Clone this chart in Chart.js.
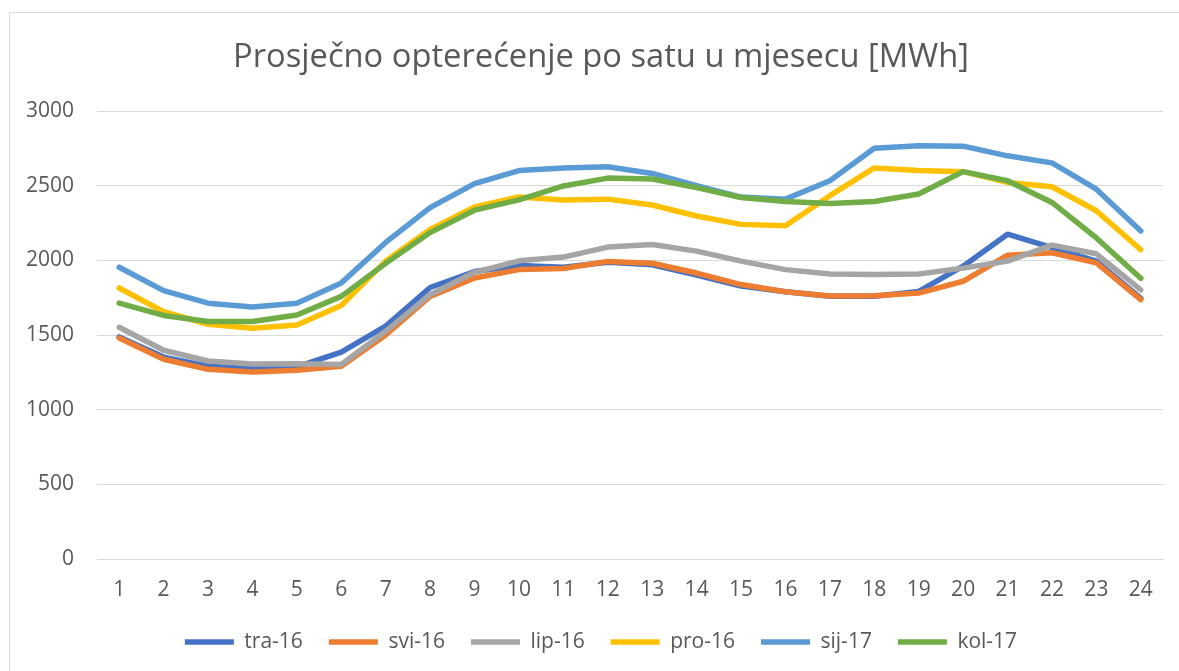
<!DOCTYPE html>
<html lang="hr">
<head>
  <meta charset="UTF-8">
  <title>Prosječno opterećenje po satu u mjesecu</title>
  <script src="https://cdn.jsdelivr.net/npm/chart.js"></script>
  <style>
    html, body { margin: 0; padding: 0; background: #fff; overflow: hidden; }
    #frame { position: absolute; left: 9px; top: 12px; width: 1200px; height: 700px; border: 1px solid #d9d9d9; }
    #wrap { position: absolute; left: 0; top: 0; width: 1200px; height: 671px; }
  </style>
</head>
<body>
  <div id="frame"></div>
  <div id="wrap"><canvas id="chart" width="1200" height="671"></canvas></div>

  <script>
    // sati u danu
    const hours = ["1","2","3","4","5","6","7","8","9","10","11","12","13","14","15","16","17","18","19","20","21","22","23","24"];

    const seriesNames = ["tra-16", "svi-16", "lip-16", "pro-16", "sij-17", "kol-17"];
    const seriesColors = ["#4472C4", "#ED7D31", "#A5A5A5", "#FFC000", "#5B9BD5", "#70AD47"];

    const tra16 = [1487, 1352, 1292, 1274, 1286, 1386, 1560, 1818, 1925, 1966, 1954, 1988, 1970, 1902, 1828, 1790, 1760, 1760, 1792, 1961, 2175, 2085, 1995, 1745];
    const svi16 = [1480, 1338, 1270, 1252, 1264, 1290, 1500, 1758, 1882, 1938, 1945, 1993, 1981, 1915, 1838, 1790, 1762, 1763, 1781, 1860, 2035, 2051, 1983, 1737];
    const lip16 = [1552, 1398, 1326, 1306, 1308, 1303, 1525, 1770, 1920, 1997, 2022, 2089, 2106, 2062, 1995, 1938, 1909, 1905, 1909, 1948, 1995, 2102, 2044, 1802];
    const pro16 = [1815, 1656, 1572, 1545, 1567, 1698, 1995, 2207, 2357, 2424, 2404, 2410, 2371, 2297, 2241, 2232, 2433, 2619, 2601, 2594, 2522, 2493, 2332, 2071];
    const sij17 = [1954, 1797, 1713, 1687, 1713, 1849, 2120, 2353, 2514, 2601, 2618, 2627, 2582, 2500, 2424, 2410, 2533, 2751, 2768, 2765, 2700, 2653, 2477, 2197];
    const kol17 = [1714, 1631, 1590, 1590, 1634, 1759, 1980, 2186, 2336, 2405, 2498, 2551, 2545, 2487, 2421, 2394, 2381, 2394, 2444, 2594, 2533, 2388, 2150, 1880];

    const yTicks = [0, 500, 1000, 1500, 2000, 2500, 3000];

    const allSeries = [tra16, svi16, lip16, pro16, sij17, kol17];
    const textColor = "#595959";
    const gridColor = "#d9d9d9";
    const fontFamily = "'Open Sans', Lato, sans-serif";

    const datasets = allSeries.map((vals, i) => ({
      label: seriesNames[i],
      data: vals,
      borderColor: seriesColors[i],
      backgroundColor: seriesColors[i],
      borderWidth: 5.5,
      borderCapStyle: "round",
      borderJoinStyle: "round",
      pointRadius: 0,
      pointHoverRadius: 0,
      tension: 0,
      fill: false,
      order: allSeries.length - i   // kasniji niz crta se preko ranijih, kao u Excelu
    }));

    new Chart(document.getElementById("chart"), {
      type: "line",
      data: { labels: hours, datasets: datasets },
      options: {
        responsive: false,
        animation: false,
        layout: { padding: { left: 10, right: 8, top: 10, bottom: 8.5 } },
        plugins: {
          title: {
            display: true,
            text: "Prosječno opterećenje po satu u mjesecu [MWh]",
            color: textColor,
            font: { family: fontFamily, size: 32.7, weight: "normal" },
            padding: { top: 28.4, bottom: 33.4 }
          },
          legend: {
            position: "bottom",
            labels: {
              color: textColor,
              font: { family: fontFamily, size: 21 },
              usePointStyle: true,
              pointStyle: "line",
              pointStyleWidth: 49,
              boxHeight: 6,
              padding: 26,
              sort: (a, b) => a.datasetIndex - b.datasetIndex
            }
          },
          tooltip: { enabled: false }
        },
        scales: {
          x: {
            offset: true,
            afterFit: (scale) => { scale.height = 46.5; },
            grid: { display: false, drawTicks: false },
            border: { display: true, color: gridColor, width: 1 },
            ticks: {
              color: textColor,
              font: { family: fontFamily, size: 21 },
              padding: 18,
              maxRotation: 0
            }
          },
          y: {
            min: 0,
            max: 3000,
            afterBuildTicks: (scale) => { scale.ticks = yTicks.map(v => ({ value: v })); },
            afterFit: (scale) => { scale.width = 87; },
            grid: { color: gridColor, lineWidth: 1, drawTicks: false },
            border: { display: false },
            ticks: {
              color: textColor,
              font: { family: fontFamily, size: 21 },
              padding: 23,
              callback: (v) => String(v)
            }
          },
          // prazan desni prostor, da naslov i legenda budu centrirani kao u izvorniku
          yRight: {
            position: "right",
            min: 0,
            max: 3000,
            afterFit: (scale) => { scale.width = 29; },
            grid: { display: false, drawTicks: false },
            border: { display: false },
            ticks: { display: false }
          }
        }
      }
    });
  </script>
</body>
</html>
